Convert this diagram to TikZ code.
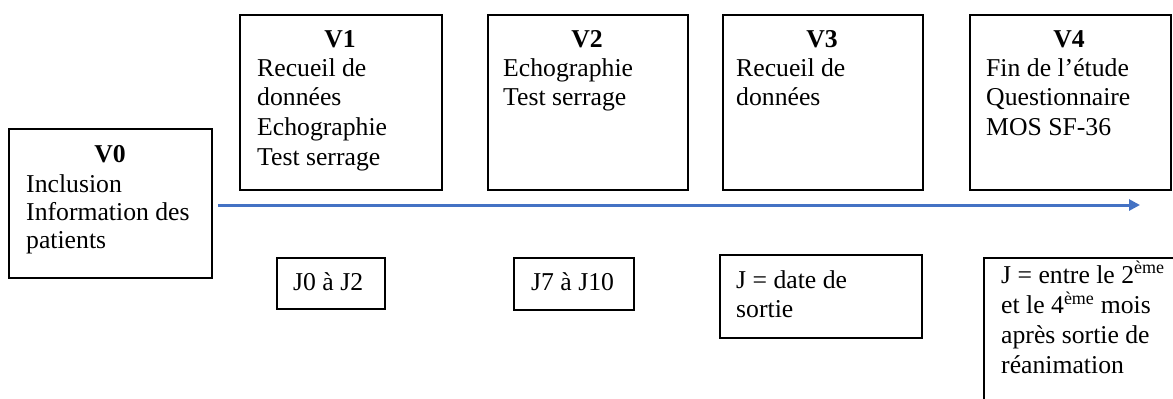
\documentclass[tikz,border=0pt]{standalone}
\usepackage{fontspec}
\setmainfont{Liberation Serif}
\usetikzlibrary{arrows.meta}
\definecolor{arrowblue}{HTML}{4472C4}
\begin{document}
\begin{tikzpicture}[x=1pt,y=-1pt,
  box/.style={draw,line width=1.8pt,inner sep=0pt,anchor=north west},
  head/.style={inner sep=0pt,anchor=base,font=\fontsize{25.7}{29.8}\selectfont\bfseries},
  tl/.style={inner sep=0pt,anchor=base west,font=\fontsize{25.7}{29.8}\selectfont}]
\useasboundingbox (0,0) rectangle (1173,399);
\clip (0,0) rectangle (1173,399);
% visit boxes
\node[box,minimum width=203pt,minimum height=149pt] (v0) at (8,128) {};
\node[box,minimum width=202pt,minimum height=175pt] (v1) at (239,14) {};
\node[box,minimum width=200pt,minimum height=175pt] (v2) at (487,14) {};
\node[box,minimum width=200pt,minimum height=175pt] (v3) at (722,14) {};
\node[box,minimum width=201pt,minimum height=175pt] (v4) at (969,14) {};
% date boxes
\node[box,minimum width=108pt,minimum height=51pt] (d1) at (276,257) {};
\node[box,minimum width=120pt,minimum height=52pt] (d2) at (513,257) {};
\node[box,minimum width=202pt,minimum height=83pt] (d3) at (719,254) {};
\node[box,minimum width=260pt,minimum height=220pt] (d4) at (983,257) {};
% headings
\node[head] (h0) at (110,162) {V0};
\node[head] (h1) at (340,47) {V1};
\node[head] (h2) at (587,47) {V2};
\node[head] (h3) at (822,47) {V3};
\node[head] (h4) at (1069,47) {V4};
% texts
\node[tl,font=\fontsize{25.7}{28.4}\selectfont] (t0) at (26,192) {\begin{tabular}[t]{@{}l@{}}Inclusion\\Information des\\patients\end{tabular}};
\node[tl] (t1) at (257,76) {\begin{tabular}[t]{@{}l@{}}Recueil de\\données\\Echographie\\Test serrage\end{tabular}};
\node[tl] (t2) at (503,76) {\begin{tabular}[t]{@{}l@{}}Echographie\\Test serrage\end{tabular}};
\node[tl] (t3) at (736,76) {\begin{tabular}[t]{@{}l@{}}Recueil de\\données\end{tabular}};
\node[tl] (t4) at (986,76) {\begin{tabular}[t]{@{}l@{}}Fin de l’étude\\Questionnaire\\MOS SF-36\end{tabular}};
\node[tl] (u1) at (293,290) {J0 à J2};
\node[tl] (u2) at (531,290) {J7 à J10};
\node[tl] (u3) at (736,288) {\begin{tabular}[t]{@{}l@{}}J = date de\\sortie\end{tabular}};
\node[tl] (u4) at (1001,283) {\begin{tabular}[t]{@{}l@{}}J = entre le 2\textsuperscript{ème}\\et le 4\textsuperscript{ème} mois\\après sortie de\\réanimation\end{tabular}};
% timeline arrow
\coordinate (as) at (218,205);
\coordinate (ae) at (1140,205);
\draw[arrowblue,line width=3pt,-{Triangle[length=11pt,width=11pt]}] (as) -- (ae);
\end{tikzpicture}
\end{document}
